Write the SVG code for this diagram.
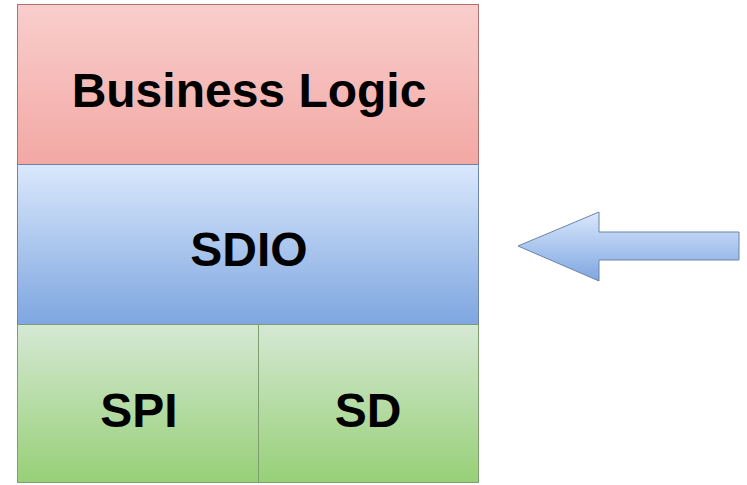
<svg xmlns="http://www.w3.org/2000/svg" width="747" height="485" viewBox="0 0 747 485">
<defs>
<linearGradient id="gr" x1="0" y1="0" x2="0" y2="1"><stop offset="0" stop-color="#f8cecc"/><stop offset="1" stop-color="#f3a8a4"/></linearGradient>
<linearGradient id="gb" x1="0" y1="0" x2="0" y2="1"><stop offset="0" stop-color="#dae8fc"/><stop offset="1" stop-color="#7ea6e0"/></linearGradient>
<linearGradient id="gg" x1="0" y1="0" x2="0" y2="1"><stop offset="0" stop-color="#d5e8d4"/><stop offset="1" stop-color="#97d077"/></linearGradient>
<style>
text{font-family:"Liberation Sans",Arial,sans-serif;font-weight:bold;fill:#000;text-anchor:middle;font-size:48px}
</style>
</defs>
<rect width="747" height="485" fill="#fff"/>
<g id="business-logic"><rect x="17.5" y="4.5" width="461" height="160" fill="url(#gr)" stroke="#a9726f"/><text x="249" y="107">Business Logic</text></g>
<g id="sdio"><rect x="17.5" y="164.5" width="461" height="160" fill="url(#gb)" stroke="#6c84a8"/><text x="249" y="266">SDIO</text></g>
<g id="spi"><rect x="17.5" y="324.5" width="241" height="158" fill="url(#gg)" stroke="#7f9e70"/><text x="139" y="427">SPI</text></g>
<g id="sd"><rect x="258.5" y="324.5" width="220" height="158" fill="url(#gg)" stroke="#7f9e70"/><text x="368" y="427">SD</text></g>
<g id="connectors"><polygon points="518,246 599,212 599,232 739,232 739,260 599,260 599,281" fill="url(#gb)" stroke="#6c84a8"/></g>
</svg>
